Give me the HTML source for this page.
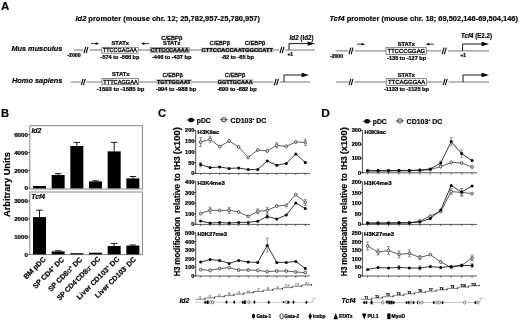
<!DOCTYPE html>
<html lang="en">
<head>
<meta charset="utf-8">
<title>Id2 and Tcf4 promoter analysis</title>
<style>
html,body{margin:0;padding:0;background:#fff;}
body{width:520px;height:321px;overflow:hidden;}
svg{display:block;font-family:"Liberation Sans", Arial, sans-serif;}
text{font-family:"Liberation Sans", Arial, sans-serif;stroke:#000;stroke-width:0.17px;paint-order:stroke;}
</style>
</head>
<body>
<svg width="520" height="321" viewBox="0 0 520 321">
<rect x="0" y="0" width="520" height="321" fill="#fff"/>
<text x="1.00" y="9.87" style="font-size:10.8px;font-weight:bold;" textLength="8.30" lengthAdjust="spacingAndGlyphs">A</text>
<text x="75.50" y="20.81" style="font-size:7.3px;font-weight:bold;" textLength="184.50" lengthAdjust="spacingAndGlyphs"><tspan style="font-style:italic">Id2</tspan> promoter (mouse chr. 12; 25,782,957-25,780,957)</text>
<text x="329.50" y="20.81" style="font-size:7.3px;font-weight:bold;" textLength="188.50" lengthAdjust="spacingAndGlyphs"><tspan style="font-style:italic">Tcf4</tspan> promoter (mouse chr. 18; 69,502,146-69,504,146)</text>
<text x="11.40" y="51.05" style="font-size:7.4px;font-weight:bold;font-style:italic;" textLength="51.00" lengthAdjust="spacingAndGlyphs">Mus musculus</text>
<text x="12.00" y="83.05" style="font-size:7.4px;font-weight:bold;font-style:italic;" textLength="50.40" lengthAdjust="spacingAndGlyphs">Homo sapiens</text>
<line x1="74.00" y1="50.00" x2="83.40" y2="50.00" stroke="#686868" stroke-width="0.9"/>
<line x1="84.00" y1="53.20" x2="85.80" y2="46.80" stroke="#000" stroke-width="1.1"/>
<line x1="86.20" y1="53.20" x2="88.00" y2="46.80" stroke="#000" stroke-width="1.1"/>
<line x1="89.40" y1="50.00" x2="279.00" y2="50.00" stroke="#686868" stroke-width="0.9"/>
<line x1="280.00" y1="53.20" x2="281.80" y2="46.80" stroke="#000" stroke-width="1.1"/>
<line x1="282.20" y1="53.20" x2="284.00" y2="46.80" stroke="#000" stroke-width="1.1"/>
<line x1="285.40" y1="50.00" x2="315.00" y2="50.00" stroke="#686868" stroke-width="0.9"/>
<text x="67.40" y="57.15" style="font-size:4.9px;font-weight:bold;stroke-width:0.24px;" textLength="13.20" lengthAdjust="spacingAndGlyphs">-2000</text>
<line x1="91.00" y1="43.60" x2="97.00" y2="43.60" stroke="#000" stroke-width="0.8"/>
<path d="M99.00 43.60 L95.70 42.20 L95.70 45.00 Z" fill="#000"/>
<line x1="143.00" y1="43.60" x2="149.00" y2="43.60" stroke="#000" stroke-width="0.8"/>
<path d="M141.00 43.60 L144.30 42.20 L144.30 45.00 Z" fill="#000"/>
<text x="111.40" y="45.30" style="font-size:5.6px;font-weight:bold;stroke-width:0.24px;" textLength="17.70" lengthAdjust="spacingAndGlyphs">STATx</text>
<rect x="101.90" y="47.20" width="36.20" height="6.00" fill="#fff" stroke="#444" stroke-width="0.6"/>
<text x="102.90" y="52.17" style="font-size:5.5px;stroke-width:0.3px;" textLength="34.10" lengthAdjust="spacingAndGlyphs">TTCCGAGAA</text>
<text x="100.60" y="59.20" style="font-size:5.6px;font-weight:bold;stroke-width:0.24px;" textLength="38.80" lengthAdjust="spacingAndGlyphs">-574 to -566 bp</text>
<text x="161.20" y="39.55" style="font-size:6px;stroke-width:0.3px;" textLength="21.10" lengthAdjust="spacingAndGlyphs">C/EBPβ</text>
<text x="163.10" y="45.10" style="font-size:5.6px;font-weight:bold;stroke-width:0.24px;" textLength="17.30" lengthAdjust="spacingAndGlyphs">STATx</text>
<rect x="150.10" y="47.30" width="39.20" height="5.40" fill="#c4c4c4" stroke="#666" stroke-width="0.5"/>
<text x="150.70" y="52.07" style="font-size:5.5px;font-weight:bold;stroke-width:0.24px;" textLength="38.00" lengthAdjust="spacingAndGlyphs">CTTCCCAAAA</text>
<text x="152.00" y="59.30" style="font-size:5.6px;font-weight:bold;stroke-width:0.24px;" textLength="39.40" lengthAdjust="spacingAndGlyphs">-446 to -437 bp</text>
<text x="209.50" y="45.15" style="font-size:6px;stroke-width:0.3px;" textLength="20.50" lengthAdjust="spacingAndGlyphs">C/EBPβ</text>
<text x="244.70" y="44.95" style="font-size:6px;stroke-width:0.3px;" textLength="20.60" lengthAdjust="spacingAndGlyphs">C/EBPβ</text>
<rect x="201.00" y="47.50" width="72.20" height="4.90" fill="#c4c4c4" stroke="none" stroke-width="1"/>
<text x="201.60" y="52.07" style="font-size:5.5px;font-weight:bold;stroke-width:0.24px;" textLength="71.40" lengthAdjust="spacingAndGlyphs">CTTCCACCAATGGCCATT</text>
<text x="221.20" y="58.70" style="font-size:5.6px;font-weight:bold;stroke-width:0.24px;" textLength="32.60" lengthAdjust="spacingAndGlyphs">-82 to -65 bp</text>
<path d="M289.00 50.00 V43.60 H310.00" fill="none" stroke="#000" stroke-width="0.9"/>
<path d="M315.00 43.60 L307.60 41.40 L307.60 45.80 Z" fill="#000"/>
<text x="289.60" y="39.76" style="font-size:6.6px;font-weight:bold;" textLength="23.90" lengthAdjust="spacingAndGlyphs"><tspan style="font-style:italic">Id2</tspan> (Id2)</text>
<text x="287.40" y="56.19" style="font-size:5px;font-weight:bold;stroke-width:0.24px;" textLength="5.60" lengthAdjust="spacingAndGlyphs">+1</text>
<line x1="70.80" y1="82.00" x2="80.60" y2="82.00" stroke="#686868" stroke-width="0.9"/>
<line x1="81.20" y1="85.20" x2="83.00" y2="78.80" stroke="#000" stroke-width="1.1"/>
<line x1="83.40" y1="85.20" x2="85.20" y2="78.80" stroke="#000" stroke-width="1.1"/>
<line x1="86.40" y1="82.00" x2="273.40" y2="82.00" stroke="#686868" stroke-width="0.9"/>
<line x1="274.40" y1="85.20" x2="276.20" y2="78.80" stroke="#000" stroke-width="1.1"/>
<line x1="276.60" y1="85.20" x2="278.40" y2="78.80" stroke="#000" stroke-width="1.1"/>
<line x1="279.80" y1="82.00" x2="310.00" y2="82.00" stroke="#686868" stroke-width="0.9"/>
<text x="111.90" y="76.40" style="font-size:5.6px;font-weight:bold;stroke-width:0.24px;" textLength="17.60" lengthAdjust="spacingAndGlyphs">STATx</text>
<rect x="102.00" y="78.50" width="36.40" height="6.30" fill="#fff" stroke="#444" stroke-width="0.6"/>
<text x="103.30" y="83.77" style="font-size:5.5px;stroke-width:0.3px;" textLength="34.40" lengthAdjust="spacingAndGlyphs">TTTCAGGAA</text>
<text x="96.80" y="91.20" style="font-size:5.6px;font-weight:bold;stroke-width:0.24px;" textLength="47.60" lengthAdjust="spacingAndGlyphs">-1593 to -1585 bp</text>
<text x="162.50" y="76.75" style="font-size:6px;stroke-width:0.3px;" textLength="20.20" lengthAdjust="spacingAndGlyphs">C/EBPβ</text>
<rect x="156.20" y="79.10" width="35.60" height="5.50" fill="#c4c4c4" stroke="none" stroke-width="1"/>
<text x="157.00" y="83.87" style="font-size:5.5px;font-weight:bold;stroke-width:0.24px;" textLength="33.70" lengthAdjust="spacingAndGlyphs">TGTTGGAAT</text>
<text x="156.00" y="91.10" style="font-size:5.6px;font-weight:bold;stroke-width:0.24px;" textLength="40.20" lengthAdjust="spacingAndGlyphs">-994 to -988 bp</text>
<text x="224.80" y="76.75" style="font-size:6px;stroke-width:0.3px;" textLength="20.40" lengthAdjust="spacingAndGlyphs">C/EBPβ</text>
<rect x="217.30" y="79.10" width="36.10" height="5.50" fill="#c4c4c4" stroke="none" stroke-width="1"/>
<text x="217.80" y="83.87" style="font-size:5.5px;font-weight:bold;stroke-width:0.24px;" textLength="34.90" lengthAdjust="spacingAndGlyphs">GGTTGCAAA</text>
<text x="216.90" y="90.90" style="font-size:5.6px;font-weight:bold;stroke-width:0.24px;" textLength="39.90" lengthAdjust="spacingAndGlyphs">-690 to -682 bp</text>
<path d="M284.00 82.00 V75.00 H304.00" fill="none" stroke="#000" stroke-width="0.9"/>
<path d="M309.00 75.00 L301.60 72.80 L301.60 77.20 Z" fill="#000"/>
<line x1="335.60" y1="50.90" x2="348.60" y2="50.90" stroke="#686868" stroke-width="0.9"/>
<line x1="349.00" y1="54.10" x2="350.80" y2="47.70" stroke="#000" stroke-width="1.1"/>
<line x1="351.20" y1="54.10" x2="353.00" y2="47.70" stroke="#000" stroke-width="1.1"/>
<line x1="354.40" y1="50.90" x2="441.40" y2="50.90" stroke="#686868" stroke-width="0.9"/>
<line x1="442.20" y1="54.10" x2="444.00" y2="47.70" stroke="#000" stroke-width="1.1"/>
<line x1="444.40" y1="54.10" x2="446.20" y2="47.70" stroke="#000" stroke-width="1.1"/>
<line x1="447.80" y1="50.90" x2="489.00" y2="50.90" stroke="#686868" stroke-width="0.9"/>
<text x="330.00" y="57.75" style="font-size:4.9px;font-weight:bold;stroke-width:0.24px;" textLength="13.00" lengthAdjust="spacingAndGlyphs">-2000</text>
<line x1="357.00" y1="44.20" x2="363.00" y2="44.20" stroke="#000" stroke-width="0.8"/>
<path d="M365.00 44.20 L361.70 42.80 L361.70 45.60 Z" fill="#000"/>
<line x1="427.80" y1="44.20" x2="433.80" y2="44.20" stroke="#000" stroke-width="0.8"/>
<path d="M425.80 44.20 L429.10 42.80 L429.10 45.60 Z" fill="#000"/>
<text x="397.70" y="46.00" style="font-size:5.6px;font-weight:bold;stroke-width:0.24px;" textLength="17.30" lengthAdjust="spacingAndGlyphs">STATx</text>
<rect x="386.00" y="47.50" width="40.20" height="6.80" fill="#fff" stroke="#444" stroke-width="0.6"/>
<text x="387.60" y="53.08" style="font-size:5.8px;stroke-width:0.3px;" textLength="37.60" lengthAdjust="spacingAndGlyphs">TTCCCGGAG</text>
<text x="387.10" y="60.40" style="font-size:5.6px;font-weight:bold;stroke-width:0.24px;" textLength="39.10" lengthAdjust="spacingAndGlyphs">-135 to -127 bp</text>
<path d="M462.60 50.90 V44.00 H484.00" fill="none" stroke="#000" stroke-width="0.9"/>
<path d="M489.00 44.00 L481.60 41.80 L481.60 46.20 Z" fill="#000"/>
<text x="461.00" y="37.96" style="font-size:6.6px;font-weight:bold;" textLength="31.00" lengthAdjust="spacingAndGlyphs"><tspan style="font-style:italic">Tcf4</tspan> (E2.2)</text>
<text x="460.40" y="57.39" style="font-size:5px;font-weight:bold;stroke-width:0.24px;" textLength="5.60" lengthAdjust="spacingAndGlyphs">+1</text>
<line x1="336.00" y1="82.00" x2="348.60" y2="82.00" stroke="#686868" stroke-width="0.9"/>
<line x1="349.00" y1="85.20" x2="350.80" y2="78.80" stroke="#000" stroke-width="1.1"/>
<line x1="351.20" y1="85.20" x2="353.00" y2="78.80" stroke="#000" stroke-width="1.1"/>
<line x1="354.40" y1="82.00" x2="442.40" y2="82.00" stroke="#686868" stroke-width="0.9"/>
<line x1="443.20" y1="85.20" x2="445.00" y2="78.80" stroke="#000" stroke-width="1.1"/>
<line x1="445.40" y1="85.20" x2="447.20" y2="78.80" stroke="#000" stroke-width="1.1"/>
<line x1="448.80" y1="82.00" x2="489.00" y2="82.00" stroke="#686868" stroke-width="0.9"/>
<text x="397.70" y="76.50" style="font-size:5.6px;font-weight:bold;stroke-width:0.24px;" textLength="17.30" lengthAdjust="spacingAndGlyphs">STATx</text>
<rect x="386.20" y="78.60" width="40.20" height="6.80" fill="#fff" stroke="#444" stroke-width="0.6"/>
<text x="388.00" y="84.28" style="font-size:5.8px;stroke-width:0.3px;" textLength="37.20" lengthAdjust="spacingAndGlyphs">TTCAGGGAA</text>
<text x="384.00" y="91.00" style="font-size:5.6px;font-weight:bold;stroke-width:0.24px;" textLength="45.00" lengthAdjust="spacingAndGlyphs">-1133 to -1125 bp</text>
<path d="M463.00 82.00 V75.00 H484.00" fill="none" stroke="#000" stroke-width="0.9"/>
<path d="M489.00 75.00 L481.60 72.80 L481.60 77.20 Z" fill="#000"/>
<text x="0.90" y="117.17" style="font-size:10.8px;font-weight:bold;" textLength="8.10" lengthAdjust="spacingAndGlyphs">B</text>
<rect x="29.80" y="125.70" width="112.60" height="63.30" fill="none" stroke="#858585" stroke-width="1"/>
<rect x="29.80" y="192.00" width="112.60" height="62.60" fill="none" stroke="#858585" stroke-width="1"/>
<text x="31.40" y="132.80" style="font-size:6.7px;font-weight:bold;font-style:italic;" textLength="10.00" lengthAdjust="spacingAndGlyphs">Id2</text>
<text x="31.20" y="198.83" style="font-size:6.8px;font-weight:bold;font-style:italic;" textLength="14.00" lengthAdjust="spacingAndGlyphs">Tcf4</text>
<text x="27.90" y="136.82" style="font-size:6.2px;font-weight:bold;stroke-width:0.24px;" text-anchor="end">6000</text>
<line x1="28.30" y1="134.60" x2="29.60" y2="134.60" stroke="#000" stroke-width="0.8"/>
<text x="27.90" y="154.72" style="font-size:6.2px;font-weight:bold;stroke-width:0.24px;" text-anchor="end">4000</text>
<line x1="28.30" y1="152.50" x2="29.60" y2="152.50" stroke="#000" stroke-width="0.8"/>
<text x="27.90" y="172.62" style="font-size:6.2px;font-weight:bold;stroke-width:0.24px;" text-anchor="end">2000</text>
<line x1="28.30" y1="170.40" x2="29.60" y2="170.40" stroke="#000" stroke-width="0.8"/>
<text x="27.90" y="190.22" style="font-size:6.2px;font-weight:bold;stroke-width:0.24px;" text-anchor="end">0</text>
<line x1="28.30" y1="188.00" x2="29.60" y2="188.00" stroke="#000" stroke-width="0.8"/>
<text x="27.90" y="203.22" style="font-size:6.2px;font-weight:bold;stroke-width:0.24px;" text-anchor="end">3000</text>
<line x1="28.30" y1="201.00" x2="29.60" y2="201.00" stroke="#000" stroke-width="0.8"/>
<text x="27.90" y="221.22" style="font-size:6.2px;font-weight:bold;stroke-width:0.24px;" text-anchor="end">2000</text>
<line x1="28.30" y1="219.00" x2="29.60" y2="219.00" stroke="#000" stroke-width="0.8"/>
<text x="27.90" y="239.22" style="font-size:6.2px;font-weight:bold;stroke-width:0.24px;" text-anchor="end">1000</text>
<line x1="28.30" y1="237.00" x2="29.60" y2="237.00" stroke="#000" stroke-width="0.8"/>
<text x="27.90" y="256.62" style="font-size:6.2px;font-weight:bold;stroke-width:0.24px;" text-anchor="end">0</text>
<line x1="28.30" y1="254.40" x2="29.60" y2="254.40" stroke="#000" stroke-width="0.8"/>
<text transform="translate(10.2 217) rotate(-90)" style="font-size:9.2px;font-weight:bold" textLength="64.8" lengthAdjust="spacingAndGlyphs">Arbitrary Units</text>
<rect x="33.00" y="186.00" width="13.00" height="2.40" fill="#000" stroke="none" stroke-width="1"/>
<rect x="51.67" y="175.00" width="13.00" height="13.40" fill="#000" stroke="none" stroke-width="1"/>
<line x1="58.17" y1="175.00" x2="58.17" y2="173.60" stroke="#000" stroke-width="0.9"/>
<line x1="54.97" y1="173.60" x2="61.37" y2="173.60" stroke="#000" stroke-width="0.9"/>
<rect x="70.34" y="146.00" width="13.00" height="42.40" fill="#000" stroke="none" stroke-width="1"/>
<line x1="76.84" y1="146.00" x2="76.84" y2="142.40" stroke="#000" stroke-width="0.9"/>
<line x1="73.64" y1="142.40" x2="80.04" y2="142.40" stroke="#000" stroke-width="0.9"/>
<rect x="89.01" y="181.40" width="13.00" height="7.00" fill="#000" stroke="none" stroke-width="1"/>
<line x1="95.51" y1="181.40" x2="95.51" y2="180.80" stroke="#000" stroke-width="0.9"/>
<line x1="92.31" y1="180.80" x2="98.71" y2="180.80" stroke="#000" stroke-width="0.9"/>
<rect x="107.68" y="151.40" width="13.00" height="37.00" fill="#000" stroke="none" stroke-width="1"/>
<line x1="114.18" y1="151.40" x2="114.18" y2="142.40" stroke="#000" stroke-width="0.9"/>
<line x1="110.98" y1="142.40" x2="117.38" y2="142.40" stroke="#000" stroke-width="0.9"/>
<rect x="126.35" y="178.40" width="13.00" height="10.00" fill="#000" stroke="none" stroke-width="1"/>
<line x1="132.85" y1="178.40" x2="132.85" y2="176.50" stroke="#000" stroke-width="0.9"/>
<line x1="129.65" y1="176.50" x2="136.05" y2="176.50" stroke="#000" stroke-width="0.9"/>
<rect x="33.00" y="217.10" width="13.00" height="37.30" fill="#000" stroke="none" stroke-width="1"/>
<line x1="39.50" y1="217.10" x2="39.50" y2="210.20" stroke="#000" stroke-width="0.9"/>
<line x1="36.30" y1="210.20" x2="42.70" y2="210.20" stroke="#000" stroke-width="0.9"/>
<rect x="51.67" y="251.40" width="13.00" height="3.00" fill="#000" stroke="none" stroke-width="1"/>
<line x1="58.17" y1="251.40" x2="58.17" y2="250.80" stroke="#000" stroke-width="0.9"/>
<line x1="54.97" y1="250.80" x2="61.37" y2="250.80" stroke="#000" stroke-width="0.9"/>
<rect x="70.34" y="253.20" width="13.00" height="1.20" fill="#000" stroke="none" stroke-width="1"/>
<rect x="89.01" y="252.70" width="13.00" height="1.70" fill="#000" stroke="none" stroke-width="1"/>
<rect x="107.68" y="246.00" width="13.00" height="8.40" fill="#000" stroke="none" stroke-width="1"/>
<line x1="114.18" y1="246.00" x2="114.18" y2="243.40" stroke="#000" stroke-width="0.9"/>
<line x1="110.98" y1="243.40" x2="117.38" y2="243.40" stroke="#000" stroke-width="0.9"/>
<rect x="126.35" y="245.60" width="13.00" height="8.80" fill="#000" stroke="none" stroke-width="1"/>
<line x1="132.85" y1="245.60" x2="132.85" y2="245.00" stroke="#000" stroke-width="0.9"/>
<line x1="129.65" y1="245.00" x2="136.05" y2="245.00" stroke="#000" stroke-width="0.9"/>
<text transform="translate(46.20 259.85) rotate(-45) scale(1 1)" text-anchor="end" style="font-size:7.2px;font-weight:bold">BM pDC</text>
<text transform="translate(64.62 260.00) rotate(-45) scale(1 1)" text-anchor="end" style="font-size:7.2px;font-weight:bold">SP CD4<tspan dy="-2.4" style="font-size:4.6px">+</tspan><tspan dy="2.4">​</tspan> DC</text>
<text transform="translate(82.79 260.00) rotate(-45) scale(1 1)" text-anchor="end" style="font-size:7.2px;font-weight:bold">SP CD8<tspan style="font-weight:normal">α</tspan><tspan dy="-2.4" style="font-size:4.6px">+</tspan><tspan dy="2.4">​</tspan> DC</text>
<text transform="translate(100.96 259.50) rotate(-45) scale(0.975 1)" text-anchor="end" style="font-size:7.2px;font-weight:bold">SP CD4<tspan dy="-2.4" style="font-size:4.6px">-</tspan><tspan dy="2.4">​</tspan>CD8<tspan style="font-weight:normal">α</tspan><tspan dy="-2.4" style="font-size:4.6px">-</tspan><tspan dy="2.4">​</tspan> DC</text>
<text transform="translate(119.88 259.60) rotate(-45) scale(1.01 1)" text-anchor="end" style="font-size:7.2px;font-weight:bold">Liver CD103<tspan dy="-2.4" style="font-size:4.6px">+</tspan><tspan dy="2.4">​</tspan> DC</text>
<text transform="translate(136.45 260.00) rotate(-45) scale(0.985 1)" text-anchor="end" style="font-size:7.2px;font-weight:bold">Liver CD103<tspan dy="-2.4" style="font-size:4.6px">-</tspan><tspan dy="2.4">​</tspan> DC</text>
<text x="158.00" y="117.07" style="font-size:10.8px;font-weight:bold;" textLength="8.10" lengthAdjust="spacingAndGlyphs">C</text>
<line x1="186.80" y1="120.00" x2="195.20" y2="120.00" stroke="#000" stroke-width="0.8"/>
<ellipse cx="191.10" cy="120.00" rx="2.7" ry="2.3" fill="#000"/>
<text x="196.80" y="122.51" style="font-size:7px;font-weight:bold;" textLength="14.00" lengthAdjust="spacingAndGlyphs">pDC</text>
<ellipse cx="223.90" cy="119.70" rx="2.5" ry="2.2" fill="#f4f4f4" stroke="#222" stroke-width="0.85"/>
<line x1="219.90" y1="119.70" x2="227.90" y2="119.70" stroke="#222" stroke-width="0.7"/>
<text x="230.60" y="122.51" style="font-size:7px;font-weight:bold;" textLength="35.80" lengthAdjust="spacingAndGlyphs">CD103<tspan dy="-2.6" style="font-size:3.6px">+</tspan><tspan dy="2.6"> DC</tspan></text>
<text transform="translate(179.50 276.25) rotate(-90)" style="font-size:8.3px;font-weight:bold" textLength="9.80" lengthAdjust="spacingAndGlyphs">H3</text>
<text transform="translate(179.50 264.65) rotate(-90)" style="font-size:8.3px;font-weight:bold" textLength="47.60" lengthAdjust="spacingAndGlyphs">modification</text>
<text transform="translate(179.50 212.95) rotate(-90)" style="font-size:8.3px;font-weight:bold" textLength="29.20" lengthAdjust="spacingAndGlyphs">relative</text>
<text transform="translate(179.50 180.95) rotate(-90)" style="font-size:8.3px;font-weight:bold" textLength="7.90" lengthAdjust="spacingAndGlyphs">to</text>
<text transform="translate(179.50 169.95) rotate(-90)" style="font-size:8.3px;font-weight:bold" textLength="13.70" lengthAdjust="spacingAndGlyphs">tH3</text>
<text transform="translate(179.50 154.35) rotate(-90)" style="font-size:8.3px;font-weight:bold" textLength="27.30" lengthAdjust="spacingAndGlyphs">(x100)</text>
<line x1="195.70" y1="129.90" x2="195.70" y2="173.80" stroke="#111" stroke-width="0.75"/>
<line x1="195.30" y1="173.40" x2="310.00" y2="173.40" stroke="#222" stroke-width="0.75"/>
<text x="194.40" y="132.40" style="font-size:5.6px;font-weight:bold;stroke-width:0.24px;" text-anchor="end">200</text>
<line x1="194.20" y1="130.40" x2="195.70" y2="130.40" stroke="#000" stroke-width="0.7"/>
<text x="194.40" y="143.10" style="font-size:5.6px;font-weight:bold;stroke-width:0.24px;" text-anchor="end">150</text>
<line x1="194.20" y1="141.10" x2="195.70" y2="141.10" stroke="#000" stroke-width="0.7"/>
<text x="194.40" y="153.90" style="font-size:5.6px;font-weight:bold;stroke-width:0.24px;" text-anchor="end">100</text>
<line x1="194.20" y1="151.90" x2="195.70" y2="151.90" stroke="#000" stroke-width="0.7"/>
<text x="194.40" y="164.60" style="font-size:5.6px;font-weight:bold;stroke-width:0.24px;" text-anchor="end">50</text>
<line x1="194.20" y1="162.60" x2="195.70" y2="162.60" stroke="#000" stroke-width="0.7"/>
<text x="194.40" y="175.20" style="font-size:5.6px;font-weight:bold;stroke-width:0.24px;" text-anchor="end">0</text>
<line x1="194.20" y1="173.20" x2="195.70" y2="173.20" stroke="#000" stroke-width="0.7"/>
<line x1="200.60" y1="173.40" x2="200.60" y2="175.00" stroke="#000" stroke-width="0.6"/>
<line x1="210.12" y1="173.40" x2="210.12" y2="175.00" stroke="#000" stroke-width="0.6"/>
<line x1="219.64" y1="173.40" x2="219.64" y2="175.00" stroke="#000" stroke-width="0.6"/>
<line x1="229.16" y1="173.40" x2="229.16" y2="175.00" stroke="#000" stroke-width="0.6"/>
<line x1="238.68" y1="173.40" x2="238.68" y2="175.00" stroke="#000" stroke-width="0.6"/>
<line x1="248.20" y1="173.40" x2="248.20" y2="175.00" stroke="#000" stroke-width="0.6"/>
<line x1="257.72" y1="173.40" x2="257.72" y2="175.00" stroke="#000" stroke-width="0.6"/>
<line x1="267.24" y1="173.40" x2="267.24" y2="175.00" stroke="#000" stroke-width="0.6"/>
<line x1="276.76" y1="173.40" x2="276.76" y2="175.00" stroke="#000" stroke-width="0.6"/>
<line x1="286.28" y1="173.40" x2="286.28" y2="175.00" stroke="#000" stroke-width="0.6"/>
<line x1="295.80" y1="173.40" x2="295.80" y2="175.00" stroke="#000" stroke-width="0.6"/>
<line x1="305.32" y1="173.40" x2="305.32" y2="175.00" stroke="#000" stroke-width="0.6"/>
<text x="197.60" y="133.75" style="font-size:6px;font-weight:bold;stroke-width:0.24px;" textLength="21.80" lengthAdjust="spacingAndGlyphs">H3K9ac</text>
<polyline points="200.60,164.60 210.12,167.60 219.64,167.00 229.16,168.40 238.68,168.00 248.20,169.50 257.72,169.40 267.24,161.00 276.76,165.20 286.28,163.40 295.80,154.00 305.32,162.40" fill="none" stroke="#000" stroke-width="0.8"/>
<line x1="200.60" y1="162.40" x2="200.60" y2="166.80" stroke="#808080" stroke-width="0.9"/>
<line x1="199.10" y1="162.40" x2="202.10" y2="162.40" stroke="#808080" stroke-width="0.8"/>
<line x1="199.10" y1="166.80" x2="202.10" y2="166.80" stroke="#808080" stroke-width="0.8"/>
<circle cx="200.60" cy="164.60" r="1.5" fill="#000"/>
<circle cx="210.12" cy="167.60" r="1.5" fill="#000"/>
<circle cx="219.64" cy="167.00" r="1.5" fill="#000"/>
<circle cx="229.16" cy="168.40" r="1.5" fill="#000"/>
<circle cx="238.68" cy="168.00" r="1.5" fill="#000"/>
<circle cx="248.20" cy="169.50" r="1.5" fill="#000"/>
<circle cx="257.72" cy="169.40" r="1.5" fill="#000"/>
<circle cx="267.24" cy="161.00" r="1.5" fill="#000"/>
<circle cx="276.76" cy="165.20" r="1.5" fill="#000"/>
<circle cx="286.28" cy="163.40" r="1.5" fill="#000"/>
<circle cx="295.80" cy="154.00" r="1.5" fill="#000"/>
<circle cx="305.32" cy="162.40" r="1.5" fill="#000"/>
<polyline points="200.60,142.00 210.12,139.40 219.64,146.60 229.16,141.00 238.68,147.00 248.20,157.40 257.72,150.00 267.24,151.00 276.76,145.40 286.28,146.40 295.80,142.00 305.32,142.40" fill="none" stroke="#333" stroke-width="0.8"/>
<line x1="200.60" y1="137.50" x2="200.60" y2="146.50" stroke="#808080" stroke-width="0.9"/>
<line x1="199.10" y1="137.50" x2="202.10" y2="137.50" stroke="#808080" stroke-width="0.8"/>
<line x1="199.10" y1="146.50" x2="202.10" y2="146.50" stroke="#808080" stroke-width="0.8"/>
<line x1="210.12" y1="136.20" x2="210.12" y2="142.60" stroke="#808080" stroke-width="0.9"/>
<line x1="208.62" y1="136.20" x2="211.62" y2="136.20" stroke="#808080" stroke-width="0.8"/>
<line x1="208.62" y1="142.60" x2="211.62" y2="142.60" stroke="#808080" stroke-width="0.8"/>
<line x1="276.76" y1="142.80" x2="276.76" y2="148.00" stroke="#808080" stroke-width="0.9"/>
<line x1="275.26" y1="142.80" x2="278.26" y2="142.80" stroke="#808080" stroke-width="0.8"/>
<line x1="275.26" y1="148.00" x2="278.26" y2="148.00" stroke="#808080" stroke-width="0.8"/>
<line x1="305.32" y1="139.20" x2="305.32" y2="145.60" stroke="#808080" stroke-width="0.9"/>
<line x1="303.82" y1="139.20" x2="306.82" y2="139.20" stroke="#808080" stroke-width="0.8"/>
<line x1="303.82" y1="145.60" x2="306.82" y2="145.60" stroke="#808080" stroke-width="0.8"/>
<ellipse cx="200.60" cy="142.00" rx="1.3" ry="1.5" fill="#e4e4e4" stroke="#2a2a2a" stroke-width="0.75"/>
<ellipse cx="210.12" cy="139.40" rx="1.3" ry="1.5" fill="#e4e4e4" stroke="#2a2a2a" stroke-width="0.75"/>
<ellipse cx="219.64" cy="146.60" rx="1.3" ry="1.5" fill="#e4e4e4" stroke="#2a2a2a" stroke-width="0.75"/>
<ellipse cx="229.16" cy="141.00" rx="1.3" ry="1.5" fill="#e4e4e4" stroke="#2a2a2a" stroke-width="0.75"/>
<ellipse cx="238.68" cy="147.00" rx="1.3" ry="1.5" fill="#e4e4e4" stroke="#2a2a2a" stroke-width="0.75"/>
<ellipse cx="248.20" cy="157.40" rx="1.3" ry="1.5" fill="#e4e4e4" stroke="#2a2a2a" stroke-width="0.75"/>
<ellipse cx="257.72" cy="150.00" rx="1.3" ry="1.5" fill="#e4e4e4" stroke="#2a2a2a" stroke-width="0.75"/>
<ellipse cx="267.24" cy="151.00" rx="1.3" ry="1.5" fill="#e4e4e4" stroke="#2a2a2a" stroke-width="0.75"/>
<ellipse cx="276.76" cy="145.40" rx="1.3" ry="1.5" fill="#e4e4e4" stroke="#2a2a2a" stroke-width="0.75"/>
<ellipse cx="286.28" cy="146.40" rx="1.3" ry="1.5" fill="#e4e4e4" stroke="#2a2a2a" stroke-width="0.75"/>
<ellipse cx="295.80" cy="142.00" rx="1.3" ry="1.5" fill="#e4e4e4" stroke="#2a2a2a" stroke-width="0.75"/>
<ellipse cx="305.32" cy="142.40" rx="1.3" ry="1.5" fill="#e4e4e4" stroke="#2a2a2a" stroke-width="0.75"/>
<line x1="195.70" y1="181.30" x2="195.70" y2="224.80" stroke="#111" stroke-width="0.75"/>
<line x1="195.30" y1="224.40" x2="310.00" y2="224.40" stroke="#222" stroke-width="0.75"/>
<text x="194.40" y="184.00" style="font-size:5.6px;font-weight:bold;stroke-width:0.24px;" text-anchor="end">400</text>
<line x1="194.20" y1="182.00" x2="195.70" y2="182.00" stroke="#000" stroke-width="0.7"/>
<text x="194.40" y="194.50" style="font-size:5.6px;font-weight:bold;stroke-width:0.24px;" text-anchor="end">300</text>
<line x1="194.20" y1="192.50" x2="195.70" y2="192.50" stroke="#000" stroke-width="0.7"/>
<text x="194.40" y="205.10" style="font-size:5.6px;font-weight:bold;stroke-width:0.24px;" text-anchor="end">200</text>
<line x1="194.20" y1="203.10" x2="195.70" y2="203.10" stroke="#000" stroke-width="0.7"/>
<text x="194.40" y="215.70" style="font-size:5.6px;font-weight:bold;stroke-width:0.24px;" text-anchor="end">100</text>
<line x1="194.20" y1="213.70" x2="195.70" y2="213.70" stroke="#000" stroke-width="0.7"/>
<text x="194.40" y="226.20" style="font-size:5.6px;font-weight:bold;stroke-width:0.24px;" text-anchor="end">0</text>
<line x1="194.20" y1="224.20" x2="195.70" y2="224.20" stroke="#000" stroke-width="0.7"/>
<line x1="200.60" y1="224.40" x2="200.60" y2="226.00" stroke="#000" stroke-width="0.6"/>
<line x1="210.12" y1="224.40" x2="210.12" y2="226.00" stroke="#000" stroke-width="0.6"/>
<line x1="219.64" y1="224.40" x2="219.64" y2="226.00" stroke="#000" stroke-width="0.6"/>
<line x1="229.16" y1="224.40" x2="229.16" y2="226.00" stroke="#000" stroke-width="0.6"/>
<line x1="238.68" y1="224.40" x2="238.68" y2="226.00" stroke="#000" stroke-width="0.6"/>
<line x1="248.20" y1="224.40" x2="248.20" y2="226.00" stroke="#000" stroke-width="0.6"/>
<line x1="257.72" y1="224.40" x2="257.72" y2="226.00" stroke="#000" stroke-width="0.6"/>
<line x1="267.24" y1="224.40" x2="267.24" y2="226.00" stroke="#000" stroke-width="0.6"/>
<line x1="276.76" y1="224.40" x2="276.76" y2="226.00" stroke="#000" stroke-width="0.6"/>
<line x1="286.28" y1="224.40" x2="286.28" y2="226.00" stroke="#000" stroke-width="0.6"/>
<line x1="295.80" y1="224.40" x2="295.80" y2="226.00" stroke="#000" stroke-width="0.6"/>
<line x1="305.32" y1="224.40" x2="305.32" y2="226.00" stroke="#000" stroke-width="0.6"/>
<text x="197.40" y="185.15" style="font-size:6px;font-weight:bold;stroke-width:0.24px;" textLength="27.60" lengthAdjust="spacingAndGlyphs">H3K4me3</text>
<polyline points="200.60,221.00 210.12,223.00 219.64,222.40 229.16,223.00 238.68,222.40 248.20,222.40 257.72,221.20 267.24,216.40 276.76,219.00 286.28,215.00 295.80,203.00 305.32,208.40" fill="none" stroke="#000" stroke-width="0.8"/>
<line x1="267.24" y1="214.40" x2="267.24" y2="218.40" stroke="#808080" stroke-width="0.9"/>
<line x1="265.74" y1="214.40" x2="268.74" y2="214.40" stroke="#808080" stroke-width="0.8"/>
<line x1="265.74" y1="218.40" x2="268.74" y2="218.40" stroke="#808080" stroke-width="0.8"/>
<circle cx="200.60" cy="221.00" r="1.5" fill="#000"/>
<circle cx="210.12" cy="223.00" r="1.5" fill="#000"/>
<circle cx="219.64" cy="222.40" r="1.5" fill="#000"/>
<circle cx="229.16" cy="223.00" r="1.5" fill="#000"/>
<circle cx="238.68" cy="222.40" r="1.5" fill="#000"/>
<circle cx="248.20" cy="222.40" r="1.5" fill="#000"/>
<circle cx="257.72" cy="221.20" r="1.5" fill="#000"/>
<circle cx="267.24" cy="216.40" r="1.5" fill="#000"/>
<circle cx="276.76" cy="219.00" r="1.5" fill="#000"/>
<circle cx="286.28" cy="215.00" r="1.5" fill="#000"/>
<circle cx="295.80" cy="203.00" r="1.5" fill="#000"/>
<circle cx="305.32" cy="208.40" r="1.5" fill="#000"/>
<polyline points="200.60,213.50 210.12,210.20 219.64,210.50 229.16,210.30 238.68,212.00 248.20,216.40 257.72,211.40 267.24,210.40 276.76,206.00 286.28,205.40 295.80,194.60 305.32,202.50" fill="none" stroke="#333" stroke-width="0.8"/>
<line x1="210.12" y1="207.20" x2="210.12" y2="213.20" stroke="#808080" stroke-width="0.9"/>
<line x1="208.62" y1="207.20" x2="211.62" y2="207.20" stroke="#808080" stroke-width="0.8"/>
<line x1="208.62" y1="213.20" x2="211.62" y2="213.20" stroke="#808080" stroke-width="0.8"/>
<line x1="229.16" y1="207.30" x2="229.16" y2="213.30" stroke="#808080" stroke-width="0.9"/>
<line x1="227.66" y1="207.30" x2="230.66" y2="207.30" stroke="#808080" stroke-width="0.8"/>
<line x1="227.66" y1="213.30" x2="230.66" y2="213.30" stroke="#808080" stroke-width="0.8"/>
<line x1="257.72" y1="208.90" x2="257.72" y2="213.90" stroke="#808080" stroke-width="0.9"/>
<line x1="256.22" y1="208.90" x2="259.22" y2="208.90" stroke="#808080" stroke-width="0.8"/>
<line x1="256.22" y1="213.90" x2="259.22" y2="213.90" stroke="#808080" stroke-width="0.8"/>
<line x1="267.24" y1="207.40" x2="267.24" y2="213.40" stroke="#808080" stroke-width="0.9"/>
<line x1="265.74" y1="207.40" x2="268.74" y2="207.40" stroke="#808080" stroke-width="0.8"/>
<line x1="265.74" y1="213.40" x2="268.74" y2="213.40" stroke="#808080" stroke-width="0.8"/>
<line x1="305.32" y1="199.50" x2="305.32" y2="205.50" stroke="#808080" stroke-width="0.9"/>
<line x1="303.82" y1="199.50" x2="306.82" y2="199.50" stroke="#808080" stroke-width="0.8"/>
<line x1="303.82" y1="205.50" x2="306.82" y2="205.50" stroke="#808080" stroke-width="0.8"/>
<ellipse cx="200.60" cy="213.50" rx="1.3" ry="1.5" fill="#e4e4e4" stroke="#2a2a2a" stroke-width="0.75"/>
<ellipse cx="210.12" cy="210.20" rx="1.3" ry="1.5" fill="#e4e4e4" stroke="#2a2a2a" stroke-width="0.75"/>
<ellipse cx="219.64" cy="210.50" rx="1.3" ry="1.5" fill="#e4e4e4" stroke="#2a2a2a" stroke-width="0.75"/>
<ellipse cx="229.16" cy="210.30" rx="1.3" ry="1.5" fill="#e4e4e4" stroke="#2a2a2a" stroke-width="0.75"/>
<ellipse cx="238.68" cy="212.00" rx="1.3" ry="1.5" fill="#e4e4e4" stroke="#2a2a2a" stroke-width="0.75"/>
<ellipse cx="248.20" cy="216.40" rx="1.3" ry="1.5" fill="#e4e4e4" stroke="#2a2a2a" stroke-width="0.75"/>
<ellipse cx="257.72" cy="211.40" rx="1.3" ry="1.5" fill="#e4e4e4" stroke="#2a2a2a" stroke-width="0.75"/>
<ellipse cx="267.24" cy="210.40" rx="1.3" ry="1.5" fill="#e4e4e4" stroke="#2a2a2a" stroke-width="0.75"/>
<ellipse cx="276.76" cy="206.00" rx="1.3" ry="1.5" fill="#e4e4e4" stroke="#2a2a2a" stroke-width="0.75"/>
<ellipse cx="286.28" cy="205.40" rx="1.3" ry="1.5" fill="#e4e4e4" stroke="#2a2a2a" stroke-width="0.75"/>
<ellipse cx="295.80" cy="194.60" rx="1.3" ry="1.5" fill="#e4e4e4" stroke="#2a2a2a" stroke-width="0.75"/>
<ellipse cx="305.32" cy="202.50" rx="1.3" ry="1.5" fill="#e4e4e4" stroke="#2a2a2a" stroke-width="0.75"/>
<line x1="195.70" y1="232.50" x2="195.70" y2="276.40" stroke="#111" stroke-width="0.75"/>
<line x1="195.30" y1="276.00" x2="310.00" y2="276.00" stroke="#222" stroke-width="0.75"/>
<text x="194.40" y="235.00" style="font-size:5.6px;font-weight:bold;stroke-width:0.24px;" text-anchor="end">500</text>
<line x1="194.20" y1="233.00" x2="195.70" y2="233.00" stroke="#000" stroke-width="0.7"/>
<text x="194.40" y="243.50" style="font-size:5.6px;font-weight:bold;stroke-width:0.24px;" text-anchor="end">400</text>
<line x1="194.20" y1="241.50" x2="195.70" y2="241.50" stroke="#000" stroke-width="0.7"/>
<text x="194.40" y="252.00" style="font-size:5.6px;font-weight:bold;stroke-width:0.24px;" text-anchor="end">300</text>
<line x1="194.20" y1="250.00" x2="195.70" y2="250.00" stroke="#000" stroke-width="0.7"/>
<text x="194.40" y="260.60" style="font-size:5.6px;font-weight:bold;stroke-width:0.24px;" text-anchor="end">200</text>
<line x1="194.20" y1="258.60" x2="195.70" y2="258.60" stroke="#000" stroke-width="0.7"/>
<text x="194.40" y="269.10" style="font-size:5.6px;font-weight:bold;stroke-width:0.24px;" text-anchor="end">100</text>
<line x1="194.20" y1="267.10" x2="195.70" y2="267.10" stroke="#000" stroke-width="0.7"/>
<text x="194.40" y="277.60" style="font-size:5.6px;font-weight:bold;stroke-width:0.24px;" text-anchor="end">0</text>
<line x1="194.20" y1="275.60" x2="195.70" y2="275.60" stroke="#000" stroke-width="0.7"/>
<line x1="200.60" y1="276.00" x2="200.60" y2="277.60" stroke="#000" stroke-width="0.6"/>
<line x1="210.12" y1="276.00" x2="210.12" y2="277.60" stroke="#000" stroke-width="0.6"/>
<line x1="219.64" y1="276.00" x2="219.64" y2="277.60" stroke="#000" stroke-width="0.6"/>
<line x1="229.16" y1="276.00" x2="229.16" y2="277.60" stroke="#000" stroke-width="0.6"/>
<line x1="238.68" y1="276.00" x2="238.68" y2="277.60" stroke="#000" stroke-width="0.6"/>
<line x1="248.20" y1="276.00" x2="248.20" y2="277.60" stroke="#000" stroke-width="0.6"/>
<line x1="257.72" y1="276.00" x2="257.72" y2="277.60" stroke="#000" stroke-width="0.6"/>
<line x1="267.24" y1="276.00" x2="267.24" y2="277.60" stroke="#000" stroke-width="0.6"/>
<line x1="276.76" y1="276.00" x2="276.76" y2="277.60" stroke="#000" stroke-width="0.6"/>
<line x1="286.28" y1="276.00" x2="286.28" y2="277.60" stroke="#000" stroke-width="0.6"/>
<line x1="295.80" y1="276.00" x2="295.80" y2="277.60" stroke="#000" stroke-width="0.6"/>
<line x1="305.32" y1="276.00" x2="305.32" y2="277.60" stroke="#000" stroke-width="0.6"/>
<text x="197.40" y="236.35" style="font-size:6px;font-weight:bold;stroke-width:0.24px;" textLength="29.60" lengthAdjust="spacingAndGlyphs">H3K27me3</text>
<polyline points="200.60,269.60 210.12,270.40 219.64,268.60 229.16,267.60 238.68,270.00 248.20,270.00 257.72,270.40 267.24,271.60 276.76,271.00 286.28,271.00 295.80,272.00 305.32,272.60" fill="none" stroke="#333" stroke-width="0.8"/>
<ellipse cx="200.60" cy="269.60" rx="1.3" ry="1.5" fill="#e4e4e4" stroke="#2a2a2a" stroke-width="0.75"/>
<ellipse cx="210.12" cy="270.40" rx="1.3" ry="1.5" fill="#e4e4e4" stroke="#2a2a2a" stroke-width="0.75"/>
<ellipse cx="219.64" cy="268.60" rx="1.3" ry="1.5" fill="#e4e4e4" stroke="#2a2a2a" stroke-width="0.75"/>
<ellipse cx="229.16" cy="267.60" rx="1.3" ry="1.5" fill="#e4e4e4" stroke="#2a2a2a" stroke-width="0.75"/>
<ellipse cx="238.68" cy="270.00" rx="1.3" ry="1.5" fill="#e4e4e4" stroke="#2a2a2a" stroke-width="0.75"/>
<ellipse cx="248.20" cy="270.00" rx="1.3" ry="1.5" fill="#e4e4e4" stroke="#2a2a2a" stroke-width="0.75"/>
<ellipse cx="257.72" cy="270.40" rx="1.3" ry="1.5" fill="#e4e4e4" stroke="#2a2a2a" stroke-width="0.75"/>
<ellipse cx="267.24" cy="271.60" rx="1.3" ry="1.5" fill="#e4e4e4" stroke="#2a2a2a" stroke-width="0.75"/>
<ellipse cx="276.76" cy="271.00" rx="1.3" ry="1.5" fill="#e4e4e4" stroke="#2a2a2a" stroke-width="0.75"/>
<ellipse cx="286.28" cy="271.00" rx="1.3" ry="1.5" fill="#e4e4e4" stroke="#2a2a2a" stroke-width="0.75"/>
<ellipse cx="295.80" cy="272.00" rx="1.3" ry="1.5" fill="#e4e4e4" stroke="#2a2a2a" stroke-width="0.75"/>
<ellipse cx="305.32" cy="272.60" rx="1.3" ry="1.5" fill="#e4e4e4" stroke="#2a2a2a" stroke-width="0.75"/>
<polyline points="200.60,262.00 210.12,259.60 219.64,260.40 229.16,263.40 238.68,260.40 248.20,262.00 257.72,262.40 267.24,245.40 276.76,262.40 286.28,262.40 295.80,261.40 305.32,268.60" fill="none" stroke="#000" stroke-width="0.8"/>
<line x1="267.24" y1="238.00" x2="267.24" y2="251.90" stroke="#808080" stroke-width="0.9"/>
<line x1="265.74" y1="238.00" x2="268.74" y2="238.00" stroke="#808080" stroke-width="0.8"/>
<line x1="265.74" y1="251.90" x2="268.74" y2="251.90" stroke="#808080" stroke-width="0.8"/>
<circle cx="200.60" cy="262.00" r="1.5" fill="#000"/>
<circle cx="210.12" cy="259.60" r="1.5" fill="#000"/>
<circle cx="219.64" cy="260.40" r="1.5" fill="#000"/>
<circle cx="229.16" cy="263.40" r="1.5" fill="#000"/>
<circle cx="238.68" cy="260.40" r="1.5" fill="#000"/>
<circle cx="248.20" cy="262.00" r="1.5" fill="#000"/>
<circle cx="257.72" cy="262.40" r="1.5" fill="#000"/>
<circle cx="267.24" cy="245.40" r="1.5" fill="#000"/>
<circle cx="276.76" cy="262.40" r="1.5" fill="#000"/>
<circle cx="286.28" cy="262.40" r="1.5" fill="#000"/>
<circle cx="295.80" cy="261.40" r="1.5" fill="#000"/>
<circle cx="305.32" cy="268.60" r="1.5" fill="#000"/>
<text x="321.20" y="116.97" style="font-size:10.8px;font-weight:bold;" textLength="8.60" lengthAdjust="spacingAndGlyphs">D</text>
<line x1="362.80" y1="121.20" x2="371.20" y2="121.20" stroke="#000" stroke-width="0.8"/>
<ellipse cx="367.10" cy="121.20" rx="2.7" ry="2.3" fill="#000"/>
<text x="372.80" y="123.71" style="font-size:7px;font-weight:bold;" textLength="14.00" lengthAdjust="spacingAndGlyphs">pDC</text>
<ellipse cx="399.90" cy="120.90" rx="2.5" ry="2.2" fill="#f4f4f4" stroke="#222" stroke-width="0.85"/>
<line x1="395.90" y1="120.90" x2="403.90" y2="120.90" stroke="#222" stroke-width="0.7"/>
<text x="406.60" y="123.71" style="font-size:7px;font-weight:bold;" textLength="35.80" lengthAdjust="spacingAndGlyphs">CD103<tspan dy="-2.6" style="font-size:3.6px">+</tspan><tspan dy="2.6"> DC</tspan></text>
<text transform="translate(346.90 276.25) rotate(-90)" style="font-size:8.3px;font-weight:bold" textLength="9.80" lengthAdjust="spacingAndGlyphs">H3</text>
<text transform="translate(346.90 264.65) rotate(-90)" style="font-size:8.3px;font-weight:bold" textLength="47.60" lengthAdjust="spacingAndGlyphs">modification</text>
<text transform="translate(346.90 212.95) rotate(-90)" style="font-size:8.3px;font-weight:bold" textLength="29.20" lengthAdjust="spacingAndGlyphs">relative</text>
<text transform="translate(346.90 180.95) rotate(-90)" style="font-size:8.3px;font-weight:bold" textLength="7.90" lengthAdjust="spacingAndGlyphs">to</text>
<text transform="translate(346.90 169.95) rotate(-90)" style="font-size:8.3px;font-weight:bold" textLength="13.70" lengthAdjust="spacingAndGlyphs">tH3</text>
<text transform="translate(346.90 154.35) rotate(-90)" style="font-size:8.3px;font-weight:bold" textLength="27.30" lengthAdjust="spacingAndGlyphs">(x100)</text>
<line x1="362.40" y1="129.90" x2="362.40" y2="173.20" stroke="#111" stroke-width="0.75"/>
<line x1="362.00" y1="172.80" x2="477.00" y2="172.80" stroke="#222" stroke-width="0.75"/>
<text x="361.10" y="132.20" style="font-size:5.6px;font-weight:bold;stroke-width:0.24px;" text-anchor="end">300</text>
<line x1="360.90" y1="130.20" x2="362.40" y2="130.20" stroke="#000" stroke-width="0.7"/>
<text x="361.10" y="146.30" style="font-size:5.6px;font-weight:bold;stroke-width:0.24px;" text-anchor="end">200</text>
<line x1="360.90" y1="144.30" x2="362.40" y2="144.30" stroke="#000" stroke-width="0.7"/>
<text x="361.10" y="160.40" style="font-size:5.6px;font-weight:bold;stroke-width:0.24px;" text-anchor="end">100</text>
<line x1="360.90" y1="158.40" x2="362.40" y2="158.40" stroke="#000" stroke-width="0.7"/>
<text x="361.10" y="174.60" style="font-size:5.6px;font-weight:bold;stroke-width:0.24px;" text-anchor="end">0</text>
<line x1="360.90" y1="172.60" x2="362.40" y2="172.60" stroke="#000" stroke-width="0.7"/>
<line x1="367.60" y1="172.80" x2="367.60" y2="174.40" stroke="#000" stroke-width="0.6"/>
<line x1="378.05" y1="172.80" x2="378.05" y2="174.40" stroke="#000" stroke-width="0.6"/>
<line x1="388.50" y1="172.80" x2="388.50" y2="174.40" stroke="#000" stroke-width="0.6"/>
<line x1="398.95" y1="172.80" x2="398.95" y2="174.40" stroke="#000" stroke-width="0.6"/>
<line x1="409.40" y1="172.80" x2="409.40" y2="174.40" stroke="#000" stroke-width="0.6"/>
<line x1="419.85" y1="172.80" x2="419.85" y2="174.40" stroke="#000" stroke-width="0.6"/>
<line x1="430.30" y1="172.80" x2="430.30" y2="174.40" stroke="#000" stroke-width="0.6"/>
<line x1="440.75" y1="172.80" x2="440.75" y2="174.40" stroke="#000" stroke-width="0.6"/>
<line x1="451.20" y1="172.80" x2="451.20" y2="174.40" stroke="#000" stroke-width="0.6"/>
<line x1="461.65" y1="172.80" x2="461.65" y2="174.40" stroke="#000" stroke-width="0.6"/>
<line x1="472.10" y1="172.80" x2="472.10" y2="174.40" stroke="#000" stroke-width="0.6"/>
<text x="364.40" y="133.75" style="font-size:6px;font-weight:bold;stroke-width:0.24px;" textLength="21.60" lengthAdjust="spacingAndGlyphs">H3K9ac</text>
<polyline points="367.60,171.00 378.05,171.00 388.50,171.00 398.95,170.80 409.40,170.80 419.85,170.50 430.30,169.60 440.75,166.60 451.20,162.40 461.65,163.00 472.10,167.00" fill="none" stroke="#333" stroke-width="0.8"/>
<ellipse cx="367.60" cy="171.00" rx="1.3" ry="1.5" fill="#e4e4e4" stroke="#2a2a2a" stroke-width="0.75"/>
<ellipse cx="378.05" cy="171.00" rx="1.3" ry="1.5" fill="#e4e4e4" stroke="#2a2a2a" stroke-width="0.75"/>
<ellipse cx="388.50" cy="171.00" rx="1.3" ry="1.5" fill="#e4e4e4" stroke="#2a2a2a" stroke-width="0.75"/>
<ellipse cx="398.95" cy="170.80" rx="1.3" ry="1.5" fill="#e4e4e4" stroke="#2a2a2a" stroke-width="0.75"/>
<ellipse cx="409.40" cy="170.80" rx="1.3" ry="1.5" fill="#e4e4e4" stroke="#2a2a2a" stroke-width="0.75"/>
<ellipse cx="419.85" cy="170.50" rx="1.3" ry="1.5" fill="#e4e4e4" stroke="#2a2a2a" stroke-width="0.75"/>
<ellipse cx="430.30" cy="169.60" rx="1.3" ry="1.5" fill="#e4e4e4" stroke="#2a2a2a" stroke-width="0.75"/>
<ellipse cx="440.75" cy="166.60" rx="1.3" ry="1.5" fill="#e4e4e4" stroke="#2a2a2a" stroke-width="0.75"/>
<ellipse cx="451.20" cy="162.40" rx="1.3" ry="1.5" fill="#e4e4e4" stroke="#2a2a2a" stroke-width="0.75"/>
<ellipse cx="461.65" cy="163.00" rx="1.3" ry="1.5" fill="#e4e4e4" stroke="#2a2a2a" stroke-width="0.75"/>
<ellipse cx="472.10" cy="167.00" rx="1.3" ry="1.5" fill="#e4e4e4" stroke="#2a2a2a" stroke-width="0.75"/>
<polyline points="367.60,170.60 378.05,170.60 388.50,170.60 398.95,170.40 409.40,170.40 419.85,170.00 430.30,169.00 440.75,163.00 451.20,141.60 461.65,153.60 472.10,160.60" fill="none" stroke="#000" stroke-width="0.8"/>
<line x1="440.75" y1="161.00" x2="440.75" y2="165.00" stroke="#808080" stroke-width="0.9"/>
<line x1="439.25" y1="161.00" x2="442.25" y2="161.00" stroke="#808080" stroke-width="0.8"/>
<line x1="439.25" y1="165.00" x2="442.25" y2="165.00" stroke="#808080" stroke-width="0.8"/>
<line x1="451.20" y1="137.60" x2="451.20" y2="145.60" stroke="#808080" stroke-width="0.9"/>
<line x1="449.70" y1="137.60" x2="452.70" y2="137.60" stroke="#808080" stroke-width="0.8"/>
<line x1="449.70" y1="145.60" x2="452.70" y2="145.60" stroke="#808080" stroke-width="0.8"/>
<line x1="461.65" y1="149.90" x2="461.65" y2="157.30" stroke="#808080" stroke-width="0.9"/>
<line x1="460.15" y1="149.90" x2="463.15" y2="149.90" stroke="#808080" stroke-width="0.8"/>
<line x1="460.15" y1="157.30" x2="463.15" y2="157.30" stroke="#808080" stroke-width="0.8"/>
<circle cx="367.60" cy="170.60" r="1.5" fill="#000"/>
<circle cx="378.05" cy="170.60" r="1.5" fill="#000"/>
<circle cx="388.50" cy="170.60" r="1.5" fill="#000"/>
<circle cx="398.95" cy="170.40" r="1.5" fill="#000"/>
<circle cx="409.40" cy="170.40" r="1.5" fill="#000"/>
<circle cx="419.85" cy="170.00" r="1.5" fill="#000"/>
<circle cx="430.30" cy="169.00" r="1.5" fill="#000"/>
<circle cx="440.75" cy="163.00" r="1.5" fill="#000"/>
<circle cx="451.20" cy="141.60" r="1.5" fill="#000"/>
<circle cx="461.65" cy="153.60" r="1.5" fill="#000"/>
<circle cx="472.10" cy="160.60" r="1.5" fill="#000"/>
<line x1="362.40" y1="181.30" x2="362.40" y2="224.80" stroke="#111" stroke-width="0.75"/>
<line x1="362.00" y1="224.40" x2="477.00" y2="224.40" stroke="#222" stroke-width="0.75"/>
<text x="361.10" y="184.00" style="font-size:5.6px;font-weight:bold;stroke-width:0.24px;" text-anchor="end">200</text>
<line x1="360.90" y1="182.00" x2="362.40" y2="182.00" stroke="#000" stroke-width="0.7"/>
<text x="361.10" y="194.50" style="font-size:5.6px;font-weight:bold;stroke-width:0.24px;" text-anchor="end">150</text>
<line x1="360.90" y1="192.50" x2="362.40" y2="192.50" stroke="#000" stroke-width="0.7"/>
<text x="361.10" y="205.10" style="font-size:5.6px;font-weight:bold;stroke-width:0.24px;" text-anchor="end">100</text>
<line x1="360.90" y1="203.10" x2="362.40" y2="203.10" stroke="#000" stroke-width="0.7"/>
<text x="361.10" y="215.70" style="font-size:5.6px;font-weight:bold;stroke-width:0.24px;" text-anchor="end">50</text>
<line x1="360.90" y1="213.70" x2="362.40" y2="213.70" stroke="#000" stroke-width="0.7"/>
<text x="361.10" y="226.20" style="font-size:5.6px;font-weight:bold;stroke-width:0.24px;" text-anchor="end">0</text>
<line x1="360.90" y1="224.20" x2="362.40" y2="224.20" stroke="#000" stroke-width="0.7"/>
<line x1="367.60" y1="224.40" x2="367.60" y2="226.00" stroke="#000" stroke-width="0.6"/>
<line x1="378.05" y1="224.40" x2="378.05" y2="226.00" stroke="#000" stroke-width="0.6"/>
<line x1="388.50" y1="224.40" x2="388.50" y2="226.00" stroke="#000" stroke-width="0.6"/>
<line x1="398.95" y1="224.40" x2="398.95" y2="226.00" stroke="#000" stroke-width="0.6"/>
<line x1="409.40" y1="224.40" x2="409.40" y2="226.00" stroke="#000" stroke-width="0.6"/>
<line x1="419.85" y1="224.40" x2="419.85" y2="226.00" stroke="#000" stroke-width="0.6"/>
<line x1="430.30" y1="224.40" x2="430.30" y2="226.00" stroke="#000" stroke-width="0.6"/>
<line x1="440.75" y1="224.40" x2="440.75" y2="226.00" stroke="#000" stroke-width="0.6"/>
<line x1="451.20" y1="224.40" x2="451.20" y2="226.00" stroke="#000" stroke-width="0.6"/>
<line x1="461.65" y1="224.40" x2="461.65" y2="226.00" stroke="#000" stroke-width="0.6"/>
<line x1="472.10" y1="224.40" x2="472.10" y2="226.00" stroke="#000" stroke-width="0.6"/>
<text x="364.00" y="185.15" style="font-size:6px;font-weight:bold;stroke-width:0.24px;" textLength="27.60" lengthAdjust="spacingAndGlyphs">H3K4me3</text>
<polyline points="367.60,223.20 378.05,223.20 388.50,223.20 398.95,223.00 409.40,222.80 419.85,221.00 430.30,216.00 440.75,211.40 451.20,191.60 461.65,192.40 472.10,193.60" fill="none" stroke="#333" stroke-width="0.8"/>
<line x1="451.20" y1="188.60" x2="451.20" y2="194.60" stroke="#808080" stroke-width="0.9"/>
<line x1="449.70" y1="188.60" x2="452.70" y2="188.60" stroke="#808080" stroke-width="0.8"/>
<line x1="449.70" y1="194.60" x2="452.70" y2="194.60" stroke="#808080" stroke-width="0.8"/>
<line x1="461.65" y1="188.40" x2="461.65" y2="196.40" stroke="#808080" stroke-width="0.9"/>
<line x1="460.15" y1="188.40" x2="463.15" y2="188.40" stroke="#808080" stroke-width="0.8"/>
<line x1="460.15" y1="196.40" x2="463.15" y2="196.40" stroke="#808080" stroke-width="0.8"/>
<ellipse cx="367.60" cy="223.20" rx="1.3" ry="1.5" fill="#e4e4e4" stroke="#2a2a2a" stroke-width="0.75"/>
<ellipse cx="378.05" cy="223.20" rx="1.3" ry="1.5" fill="#e4e4e4" stroke="#2a2a2a" stroke-width="0.75"/>
<ellipse cx="388.50" cy="223.20" rx="1.3" ry="1.5" fill="#e4e4e4" stroke="#2a2a2a" stroke-width="0.75"/>
<ellipse cx="398.95" cy="223.00" rx="1.3" ry="1.5" fill="#e4e4e4" stroke="#2a2a2a" stroke-width="0.75"/>
<ellipse cx="409.40" cy="222.80" rx="1.3" ry="1.5" fill="#e4e4e4" stroke="#2a2a2a" stroke-width="0.75"/>
<ellipse cx="419.85" cy="221.00" rx="1.3" ry="1.5" fill="#e4e4e4" stroke="#2a2a2a" stroke-width="0.75"/>
<ellipse cx="430.30" cy="216.00" rx="1.3" ry="1.5" fill="#e4e4e4" stroke="#2a2a2a" stroke-width="0.75"/>
<ellipse cx="440.75" cy="211.40" rx="1.3" ry="1.5" fill="#e4e4e4" stroke="#2a2a2a" stroke-width="0.75"/>
<ellipse cx="451.20" cy="191.60" rx="1.3" ry="1.5" fill="#e4e4e4" stroke="#2a2a2a" stroke-width="0.75"/>
<ellipse cx="461.65" cy="192.40" rx="1.3" ry="1.5" fill="#e4e4e4" stroke="#2a2a2a" stroke-width="0.75"/>
<ellipse cx="472.10" cy="193.60" rx="1.3" ry="1.5" fill="#e4e4e4" stroke="#2a2a2a" stroke-width="0.75"/>
<polyline points="367.60,223.00 378.05,223.00 388.50,223.00 398.95,222.80 409.40,222.80 419.85,222.00 430.30,218.60 440.75,210.00 451.20,185.60 461.65,192.00 472.10,186.00" fill="none" stroke="#000" stroke-width="0.8"/>
<line x1="461.65" y1="188.50" x2="461.65" y2="195.50" stroke="#808080" stroke-width="0.9"/>
<line x1="460.15" y1="188.50" x2="463.15" y2="188.50" stroke="#808080" stroke-width="0.8"/>
<line x1="460.15" y1="195.50" x2="463.15" y2="195.50" stroke="#808080" stroke-width="0.8"/>
<circle cx="367.60" cy="223.00" r="1.5" fill="#000"/>
<circle cx="378.05" cy="223.00" r="1.5" fill="#000"/>
<circle cx="388.50" cy="223.00" r="1.5" fill="#000"/>
<circle cx="398.95" cy="222.80" r="1.5" fill="#000"/>
<circle cx="409.40" cy="222.80" r="1.5" fill="#000"/>
<circle cx="419.85" cy="222.00" r="1.5" fill="#000"/>
<circle cx="430.30" cy="218.60" r="1.5" fill="#000"/>
<circle cx="440.75" cy="210.00" r="1.5" fill="#000"/>
<circle cx="451.20" cy="185.60" r="1.5" fill="#000"/>
<circle cx="461.65" cy="192.00" r="1.5" fill="#000"/>
<circle cx="472.10" cy="186.00" r="1.5" fill="#000"/>
<line x1="362.40" y1="232.50" x2="362.40" y2="276.40" stroke="#111" stroke-width="0.75"/>
<line x1="362.00" y1="276.00" x2="477.00" y2="276.00" stroke="#222" stroke-width="0.75"/>
<text x="361.10" y="235.00" style="font-size:5.6px;font-weight:bold;stroke-width:0.24px;" text-anchor="end">250</text>
<line x1="360.90" y1="233.00" x2="362.40" y2="233.00" stroke="#000" stroke-width="0.7"/>
<text x="361.10" y="243.50" style="font-size:5.6px;font-weight:bold;stroke-width:0.24px;" text-anchor="end">200</text>
<line x1="360.90" y1="241.50" x2="362.40" y2="241.50" stroke="#000" stroke-width="0.7"/>
<text x="361.10" y="252.00" style="font-size:5.6px;font-weight:bold;stroke-width:0.24px;" text-anchor="end">150</text>
<line x1="360.90" y1="250.00" x2="362.40" y2="250.00" stroke="#000" stroke-width="0.7"/>
<text x="361.10" y="260.60" style="font-size:5.6px;font-weight:bold;stroke-width:0.24px;" text-anchor="end">100</text>
<line x1="360.90" y1="258.60" x2="362.40" y2="258.60" stroke="#000" stroke-width="0.7"/>
<text x="361.10" y="269.10" style="font-size:5.6px;font-weight:bold;stroke-width:0.24px;" text-anchor="end">50</text>
<line x1="360.90" y1="267.10" x2="362.40" y2="267.10" stroke="#000" stroke-width="0.7"/>
<text x="361.10" y="277.60" style="font-size:5.6px;font-weight:bold;stroke-width:0.24px;" text-anchor="end">0</text>
<line x1="360.90" y1="275.60" x2="362.40" y2="275.60" stroke="#000" stroke-width="0.7"/>
<line x1="367.60" y1="276.00" x2="367.60" y2="277.60" stroke="#000" stroke-width="0.6"/>
<line x1="378.05" y1="276.00" x2="378.05" y2="277.60" stroke="#000" stroke-width="0.6"/>
<line x1="388.50" y1="276.00" x2="388.50" y2="277.60" stroke="#000" stroke-width="0.6"/>
<line x1="398.95" y1="276.00" x2="398.95" y2="277.60" stroke="#000" stroke-width="0.6"/>
<line x1="409.40" y1="276.00" x2="409.40" y2="277.60" stroke="#000" stroke-width="0.6"/>
<line x1="419.85" y1="276.00" x2="419.85" y2="277.60" stroke="#000" stroke-width="0.6"/>
<line x1="430.30" y1="276.00" x2="430.30" y2="277.60" stroke="#000" stroke-width="0.6"/>
<line x1="440.75" y1="276.00" x2="440.75" y2="277.60" stroke="#000" stroke-width="0.6"/>
<line x1="451.20" y1="276.00" x2="451.20" y2="277.60" stroke="#000" stroke-width="0.6"/>
<line x1="461.65" y1="276.00" x2="461.65" y2="277.60" stroke="#000" stroke-width="0.6"/>
<line x1="472.10" y1="276.00" x2="472.10" y2="277.60" stroke="#000" stroke-width="0.6"/>
<text x="364.00" y="236.35" style="font-size:6px;font-weight:bold;stroke-width:0.24px;" textLength="30.00" lengthAdjust="spacingAndGlyphs">H3K27me3</text>
<polyline points="367.60,246.00 378.05,252.00 388.50,250.50 398.95,254.40 409.40,253.40 419.85,257.50 430.30,254.60 440.75,262.00 451.20,267.40 461.65,265.40 472.10,258.00" fill="none" stroke="#333" stroke-width="0.8"/>
<line x1="367.60" y1="242.00" x2="367.60" y2="250.00" stroke="#808080" stroke-width="0.9"/>
<line x1="366.10" y1="242.00" x2="369.10" y2="242.00" stroke="#808080" stroke-width="0.8"/>
<line x1="366.10" y1="250.00" x2="369.10" y2="250.00" stroke="#808080" stroke-width="0.8"/>
<line x1="378.05" y1="249.00" x2="378.05" y2="255.00" stroke="#808080" stroke-width="0.9"/>
<line x1="376.55" y1="249.00" x2="379.55" y2="249.00" stroke="#808080" stroke-width="0.8"/>
<line x1="376.55" y1="255.00" x2="379.55" y2="255.00" stroke="#808080" stroke-width="0.8"/>
<line x1="388.50" y1="246.50" x2="388.50" y2="254.50" stroke="#808080" stroke-width="0.9"/>
<line x1="387.00" y1="246.50" x2="390.00" y2="246.50" stroke="#808080" stroke-width="0.8"/>
<line x1="387.00" y1="254.50" x2="390.00" y2="254.50" stroke="#808080" stroke-width="0.8"/>
<line x1="398.95" y1="250.90" x2="398.95" y2="257.90" stroke="#808080" stroke-width="0.9"/>
<line x1="397.45" y1="250.90" x2="400.45" y2="250.90" stroke="#808080" stroke-width="0.8"/>
<line x1="397.45" y1="257.90" x2="400.45" y2="257.90" stroke="#808080" stroke-width="0.8"/>
<line x1="409.40" y1="249.90" x2="409.40" y2="256.90" stroke="#808080" stroke-width="0.9"/>
<line x1="407.90" y1="249.90" x2="410.90" y2="249.90" stroke="#808080" stroke-width="0.8"/>
<line x1="407.90" y1="256.90" x2="410.90" y2="256.90" stroke="#808080" stroke-width="0.8"/>
<line x1="419.85" y1="255.50" x2="419.85" y2="259.50" stroke="#808080" stroke-width="0.9"/>
<line x1="418.35" y1="255.50" x2="421.35" y2="255.50" stroke="#808080" stroke-width="0.8"/>
<line x1="418.35" y1="259.50" x2="421.35" y2="259.50" stroke="#808080" stroke-width="0.8"/>
<line x1="472.10" y1="255.00" x2="472.10" y2="261.00" stroke="#808080" stroke-width="0.9"/>
<line x1="470.60" y1="255.00" x2="473.60" y2="255.00" stroke="#808080" stroke-width="0.8"/>
<line x1="470.60" y1="261.00" x2="473.60" y2="261.00" stroke="#808080" stroke-width="0.8"/>
<ellipse cx="367.60" cy="246.00" rx="1.3" ry="1.5" fill="#e4e4e4" stroke="#2a2a2a" stroke-width="0.75"/>
<ellipse cx="378.05" cy="252.00" rx="1.3" ry="1.5" fill="#e4e4e4" stroke="#2a2a2a" stroke-width="0.75"/>
<ellipse cx="388.50" cy="250.50" rx="1.3" ry="1.5" fill="#e4e4e4" stroke="#2a2a2a" stroke-width="0.75"/>
<ellipse cx="398.95" cy="254.40" rx="1.3" ry="1.5" fill="#e4e4e4" stroke="#2a2a2a" stroke-width="0.75"/>
<ellipse cx="409.40" cy="253.40" rx="1.3" ry="1.5" fill="#e4e4e4" stroke="#2a2a2a" stroke-width="0.75"/>
<ellipse cx="419.85" cy="257.50" rx="1.3" ry="1.5" fill="#e4e4e4" stroke="#2a2a2a" stroke-width="0.75"/>
<ellipse cx="430.30" cy="254.60" rx="1.3" ry="1.5" fill="#e4e4e4" stroke="#2a2a2a" stroke-width="0.75"/>
<ellipse cx="440.75" cy="262.00" rx="1.3" ry="1.5" fill="#e4e4e4" stroke="#2a2a2a" stroke-width="0.75"/>
<ellipse cx="451.20" cy="267.40" rx="1.3" ry="1.5" fill="#e4e4e4" stroke="#2a2a2a" stroke-width="0.75"/>
<ellipse cx="461.65" cy="265.40" rx="1.3" ry="1.5" fill="#e4e4e4" stroke="#2a2a2a" stroke-width="0.75"/>
<ellipse cx="472.10" cy="258.00" rx="1.3" ry="1.5" fill="#e4e4e4" stroke="#2a2a2a" stroke-width="0.75"/>
<polyline points="367.60,269.40 378.05,267.60 388.50,268.00 398.95,267.40 409.40,268.00 419.85,268.00 430.30,266.60 440.75,267.40 451.20,266.40 461.65,265.40 472.10,265.60" fill="none" stroke="#000" stroke-width="0.8"/>
<line x1="398.95" y1="265.40" x2="398.95" y2="269.40" stroke="#808080" stroke-width="0.9"/>
<line x1="397.45" y1="265.40" x2="400.45" y2="265.40" stroke="#808080" stroke-width="0.8"/>
<line x1="397.45" y1="269.40" x2="400.45" y2="269.40" stroke="#808080" stroke-width="0.8"/>
<line x1="419.85" y1="266.00" x2="419.85" y2="270.00" stroke="#808080" stroke-width="0.9"/>
<line x1="418.35" y1="266.00" x2="421.35" y2="266.00" stroke="#808080" stroke-width="0.8"/>
<line x1="418.35" y1="270.00" x2="421.35" y2="270.00" stroke="#808080" stroke-width="0.8"/>
<line x1="472.10" y1="263.60" x2="472.10" y2="267.60" stroke="#808080" stroke-width="0.9"/>
<line x1="470.60" y1="263.60" x2="473.60" y2="263.60" stroke="#808080" stroke-width="0.8"/>
<line x1="470.60" y1="267.60" x2="473.60" y2="267.60" stroke="#808080" stroke-width="0.8"/>
<circle cx="367.60" cy="269.40" r="1.5" fill="#000"/>
<circle cx="378.05" cy="267.60" r="1.5" fill="#000"/>
<circle cx="388.50" cy="268.00" r="1.5" fill="#000"/>
<circle cx="398.95" cy="267.40" r="1.5" fill="#000"/>
<circle cx="409.40" cy="268.00" r="1.5" fill="#000"/>
<circle cx="419.85" cy="268.00" r="1.5" fill="#000"/>
<circle cx="430.30" cy="266.60" r="1.5" fill="#000"/>
<circle cx="440.75" cy="267.40" r="1.5" fill="#000"/>
<circle cx="451.20" cy="266.40" r="1.5" fill="#000"/>
<circle cx="461.65" cy="265.40" r="1.5" fill="#000"/>
<circle cx="472.10" cy="265.60" r="1.5" fill="#000"/>
<text x="179.40" y="302.91" style="font-size:7px;font-weight:bold;font-style:italic;" textLength="10.00" lengthAdjust="spacingAndGlyphs">Id2</text>
<line x1="195.30" y1="299.30" x2="205.00" y2="299.30" stroke="#2a2a2a" stroke-width="0.55"/>
<rect x="204.20" y="298.30" width="1.20" height="1.20" fill="#000" stroke="none" stroke-width="1"/>
<text x="200.15" y="299.10" style="font-size:3.2px;font-weight:bold;stroke-width:0.24px;stroke:none;" text-anchor="middle" fill="#6a6a6a">I1</text>
<line x1="205.00" y1="298.00" x2="214.70" y2="298.00" stroke="#2a2a2a" stroke-width="0.55"/>
<rect x="213.90" y="297.00" width="1.20" height="1.20" fill="#000" stroke="none" stroke-width="1"/>
<text x="209.85" y="297.80" style="font-size:3.2px;font-weight:bold;stroke-width:0.24px;stroke:none;" text-anchor="middle" fill="#6a6a6a">I2</text>
<line x1="214.70" y1="296.70" x2="224.40" y2="296.70" stroke="#2a2a2a" stroke-width="0.55"/>
<rect x="223.60" y="295.70" width="1.20" height="1.20" fill="#000" stroke="none" stroke-width="1"/>
<text x="219.55" y="296.50" style="font-size:3.2px;font-weight:bold;stroke-width:0.24px;stroke:none;" text-anchor="middle" fill="#6a6a6a">I3</text>
<line x1="224.40" y1="295.40" x2="234.10" y2="295.40" stroke="#2a2a2a" stroke-width="0.55"/>
<rect x="233.30" y="294.40" width="1.20" height="1.20" fill="#000" stroke="none" stroke-width="1"/>
<text x="229.25" y="295.20" style="font-size:3.2px;font-weight:bold;stroke-width:0.24px;stroke:none;" text-anchor="middle" fill="#6a6a6a">I4</text>
<line x1="234.10" y1="294.10" x2="243.80" y2="294.10" stroke="#2a2a2a" stroke-width="0.55"/>
<rect x="243.00" y="293.10" width="1.20" height="1.20" fill="#000" stroke="none" stroke-width="1"/>
<text x="238.95" y="293.90" style="font-size:3.2px;font-weight:bold;stroke-width:0.24px;stroke:none;" text-anchor="middle" fill="#6a6a6a">I5</text>
<line x1="243.80" y1="292.80" x2="253.50" y2="292.80" stroke="#2a2a2a" stroke-width="0.55"/>
<rect x="252.70" y="291.80" width="1.20" height="1.20" fill="#000" stroke="none" stroke-width="1"/>
<text x="248.65" y="292.60" style="font-size:3.2px;font-weight:bold;stroke-width:0.24px;stroke:none;" text-anchor="middle" fill="#6a6a6a">I6</text>
<line x1="253.50" y1="291.50" x2="263.20" y2="291.50" stroke="#2a2a2a" stroke-width="0.55"/>
<rect x="262.40" y="290.50" width="1.20" height="1.20" fill="#000" stroke="none" stroke-width="1"/>
<text x="258.35" y="291.30" style="font-size:3.2px;font-weight:bold;stroke-width:0.24px;stroke:none;" text-anchor="middle" fill="#6a6a6a">I7</text>
<line x1="263.20" y1="290.20" x2="272.90" y2="290.20" stroke="#2a2a2a" stroke-width="0.55"/>
<rect x="272.10" y="289.20" width="1.20" height="1.20" fill="#000" stroke="none" stroke-width="1"/>
<text x="268.05" y="290.00" style="font-size:3.2px;font-weight:bold;stroke-width:0.24px;stroke:none;" text-anchor="middle" fill="#6a6a6a">I8</text>
<line x1="272.90" y1="288.90" x2="282.60" y2="288.90" stroke="#2a2a2a" stroke-width="0.55"/>
<rect x="281.80" y="287.90" width="1.20" height="1.20" fill="#000" stroke="none" stroke-width="1"/>
<text x="277.75" y="288.70" style="font-size:3.2px;font-weight:bold;stroke-width:0.24px;stroke:none;" text-anchor="middle" fill="#6a6a6a">I9</text>
<line x1="282.60" y1="287.60" x2="292.30" y2="287.60" stroke="#2a2a2a" stroke-width="0.55"/>
<rect x="291.50" y="286.60" width="1.20" height="1.20" fill="#000" stroke="none" stroke-width="1"/>
<text x="287.45" y="287.40" style="font-size:3.2px;font-weight:bold;stroke-width:0.24px;stroke:none;" text-anchor="middle" fill="#6a6a6a">I10</text>
<line x1="292.30" y1="286.30" x2="302.00" y2="286.30" stroke="#2a2a2a" stroke-width="0.55"/>
<rect x="301.20" y="285.30" width="1.20" height="1.20" fill="#000" stroke="none" stroke-width="1"/>
<text x="297.15" y="286.10" style="font-size:3.2px;font-weight:bold;stroke-width:0.24px;stroke:none;" text-anchor="middle" fill="#6a6a6a">I11</text>
<line x1="302.00" y1="285.00" x2="311.70" y2="285.00" stroke="#2a2a2a" stroke-width="0.55"/>
<rect x="310.90" y="284.00" width="1.20" height="1.20" fill="#000" stroke="none" stroke-width="1"/>
<text x="306.85" y="284.80" style="font-size:3.2px;font-weight:bold;stroke-width:0.24px;stroke:none;" text-anchor="middle" fill="#6a6a6a">I12</text>
<line x1="195.30" y1="302.20" x2="313.00" y2="302.20" stroke="#aaa" stroke-width="0.7"/>
<path d="M313 302.2 V298.2 H316.6" fill="none" stroke="#999" stroke-width="0.6"/>
<ellipse cx="205.20" cy="302.20" rx="0.95" ry="1.55" fill="#000"/>
<rect x="206.60" y="300.40" width="2.00" height="3.60" fill="#000" stroke="none" stroke-width="1"/>
<ellipse cx="210.60" cy="302.20" rx="1.05" ry="1.60" fill="#fff" stroke="#2a2a2a" stroke-width="0.55"/>
<ellipse cx="212.80" cy="302.20" rx="1.05" ry="1.60" fill="#fff" stroke="#2a2a2a" stroke-width="0.55"/>
<path d="M226.50 300.10 L227.60 302.20 L226.50 304.30 L225.40 302.20 Z" fill="#000"/>
<path d="M234.20 300.10 L235.30 302.20 L234.20 304.30 L233.10 302.20 Z" fill="#000"/>
<ellipse cx="242.80" cy="302.20" rx="0.95" ry="1.55" fill="#000"/>
<rect x="243.80" y="300.40" width="2.00" height="3.60" fill="#000" stroke="none" stroke-width="1"/>
<ellipse cx="248.80" cy="302.20" rx="1.05" ry="1.60" fill="#fff" stroke="#2a2a2a" stroke-width="0.55"/>
<path d="M254.40 300.10 L255.50 302.20 L254.40 304.30 L253.30 302.20 Z" fill="#000"/>
<ellipse cx="268.80" cy="302.20" rx="0.95" ry="1.55" fill="#000"/>
<rect x="282.90" y="301.30" width="1.40" height="1.80" fill="#000" stroke="none" stroke-width="1"/>
<ellipse cx="286.80" cy="302.20" rx="1.05" ry="1.60" fill="#fff" stroke="#2a2a2a" stroke-width="0.55"/>
<ellipse cx="288.40" cy="302.20" rx="0.95" ry="1.55" fill="#000"/>
<path d="M293.50 300.10 L294.60 302.20 L293.50 304.30 L292.40 302.20 Z" fill="#000"/>
<ellipse cx="306.50" cy="302.20" rx="0.95" ry="1.55" fill="#000"/>
<text x="341.60" y="303.11" style="font-size:7px;font-weight:bold;font-style:italic;" textLength="14.00" lengthAdjust="spacingAndGlyphs">Tcf4</text>
<line x1="361.00" y1="299.40" x2="371.75" y2="299.40" stroke="#2a2a2a" stroke-width="0.55"/>
<rect x="370.95" y="298.40" width="1.20" height="1.20" fill="#000" stroke="none" stroke-width="1"/>
<text x="366.38" y="299.12" style="font-size:3.0px;font-weight:bold;stroke-width:0.24px;" text-anchor="middle">T1</text>
<line x1="371.75" y1="298.04" x2="382.50" y2="298.04" stroke="#2a2a2a" stroke-width="0.55"/>
<rect x="381.70" y="297.04" width="1.20" height="1.20" fill="#000" stroke="none" stroke-width="1"/>
<text x="377.12" y="297.76" style="font-size:3.0px;font-weight:bold;stroke-width:0.24px;" text-anchor="middle">T2</text>
<line x1="382.50" y1="296.68" x2="393.25" y2="296.68" stroke="#2a2a2a" stroke-width="0.55"/>
<rect x="392.45" y="295.68" width="1.20" height="1.20" fill="#000" stroke="none" stroke-width="1"/>
<text x="387.88" y="296.40" style="font-size:3.0px;font-weight:bold;stroke-width:0.24px;" text-anchor="middle">T3</text>
<line x1="393.25" y1="295.32" x2="404.00" y2="295.32" stroke="#2a2a2a" stroke-width="0.55"/>
<rect x="403.20" y="294.32" width="1.20" height="1.20" fill="#000" stroke="none" stroke-width="1"/>
<text x="398.62" y="295.04" style="font-size:3.0px;font-weight:bold;stroke-width:0.24px;" text-anchor="middle">T4</text>
<line x1="404.00" y1="293.96" x2="414.75" y2="293.96" stroke="#2a2a2a" stroke-width="0.55"/>
<rect x="413.95" y="292.96" width="1.20" height="1.20" fill="#000" stroke="none" stroke-width="1"/>
<text x="409.38" y="293.68" style="font-size:3.0px;font-weight:bold;stroke-width:0.24px;" text-anchor="middle">T5</text>
<line x1="414.75" y1="292.60" x2="425.50" y2="292.60" stroke="#2a2a2a" stroke-width="0.55"/>
<rect x="424.70" y="291.60" width="1.20" height="1.20" fill="#000" stroke="none" stroke-width="1"/>
<text x="420.12" y="292.32" style="font-size:3.0px;font-weight:bold;stroke-width:0.24px;" text-anchor="middle">T6</text>
<line x1="425.50" y1="291.24" x2="436.25" y2="291.24" stroke="#2a2a2a" stroke-width="0.55"/>
<rect x="435.45" y="290.24" width="1.20" height="1.20" fill="#000" stroke="none" stroke-width="1"/>
<text x="430.88" y="290.96" style="font-size:3.0px;font-weight:bold;stroke-width:0.24px;" text-anchor="middle">T7</text>
<line x1="436.25" y1="289.88" x2="447.00" y2="289.88" stroke="#2a2a2a" stroke-width="0.55"/>
<rect x="446.20" y="288.88" width="1.20" height="1.20" fill="#000" stroke="none" stroke-width="1"/>
<text x="441.62" y="289.60" style="font-size:3.0px;font-weight:bold;stroke-width:0.24px;" text-anchor="middle">T8</text>
<line x1="447.00" y1="288.52" x2="457.75" y2="288.52" stroke="#2a2a2a" stroke-width="0.55"/>
<rect x="456.95" y="287.52" width="1.20" height="1.20" fill="#000" stroke="none" stroke-width="1"/>
<text x="452.38" y="288.24" style="font-size:3.0px;font-weight:bold;stroke-width:0.24px;" text-anchor="middle">T9</text>
<line x1="457.75" y1="287.16" x2="468.50" y2="287.16" stroke="#2a2a2a" stroke-width="0.55"/>
<rect x="467.70" y="286.16" width="1.20" height="1.20" fill="#000" stroke="none" stroke-width="1"/>
<text x="463.12" y="286.88" style="font-size:3.0px;font-weight:bold;stroke-width:0.24px;" text-anchor="middle">T10</text>
<line x1="468.50" y1="285.80" x2="479.25" y2="285.80" stroke="#2a2a2a" stroke-width="0.55"/>
<rect x="478.45" y="284.80" width="1.20" height="1.20" fill="#000" stroke="none" stroke-width="1"/>
<text x="473.88" y="285.52" style="font-size:3.0px;font-weight:bold;stroke-width:0.24px;" text-anchor="middle">T11</text>
<line x1="361.30" y1="302.50" x2="480.00" y2="302.50" stroke="#aaa" stroke-width="0.7"/>
<path d="M480 302.2 V298.2 H483.6" fill="none" stroke="#999" stroke-width="0.6"/>
<ellipse cx="364.20" cy="302.50" rx="0.95" ry="1.55" fill="#000"/>
<ellipse cx="366.40" cy="302.50" rx="0.95" ry="1.55" fill="#000"/>
<rect x="370.60" y="300.70" width="2.00" height="3.60" fill="#000" stroke="none" stroke-width="1"/>
<ellipse cx="382.70" cy="302.50" rx="1.05" ry="1.60" fill="#fff" stroke="#2a2a2a" stroke-width="0.55"/>
<path d="M387.00 304.50 L388.40 300.70 L385.60 300.70 Z" fill="#000"/>
<rect x="388.40" y="300.70" width="2.00" height="3.60" fill="#000" stroke="none" stroke-width="1"/>
<rect x="390.60" y="300.70" width="2.00" height="3.60" fill="#000" stroke="none" stroke-width="1"/>
<ellipse cx="393.80" cy="302.50" rx="0.95" ry="1.55" fill="#000"/>
<ellipse cx="406.60" cy="302.50" rx="0.95" ry="1.55" fill="#000"/>
<path d="M408.80 300.40 L409.90 302.50 L408.80 304.60 L407.70 302.50 Z" fill="#000"/>
<ellipse cx="411.20" cy="302.50" rx="1.05" ry="1.60" fill="#fff" stroke="#2a2a2a" stroke-width="0.55"/>
<ellipse cx="413.60" cy="302.50" rx="0.95" ry="1.55" fill="#000"/>
<ellipse cx="417.80" cy="302.50" rx="0.95" ry="1.55" fill="#000"/>
<ellipse cx="418.80" cy="302.50" rx="1.05" ry="1.60" fill="#fff" stroke="#2a2a2a" stroke-width="0.55"/>
<ellipse cx="421.90" cy="302.50" rx="1.05" ry="1.60" fill="#fff" stroke="#2a2a2a" stroke-width="0.55"/>
<ellipse cx="433.80" cy="302.50" rx="0.95" ry="1.55" fill="#000"/>
<ellipse cx="436.90" cy="302.50" rx="1.05" ry="1.60" fill="#fff" stroke="#2a2a2a" stroke-width="0.55"/>
<ellipse cx="439.80" cy="302.50" rx="1.05" ry="1.60" fill="#fff" stroke="#2a2a2a" stroke-width="0.55"/>
<ellipse cx="442.60" cy="302.50" rx="0.95" ry="1.55" fill="#000"/>
<ellipse cx="464.50" cy="302.50" rx="1.05" ry="1.60" fill="#fff" stroke="#2a2a2a" stroke-width="0.55"/>
<ellipse cx="475.40" cy="302.50" rx="0.95" ry="1.55" fill="#000"/>
<ellipse cx="477.80" cy="302.50" rx="1.05" ry="1.60" fill="#fff" stroke="#2a2a2a" stroke-width="0.55"/>
<ellipse cx="253.50" cy="316.30" rx="1.52" ry="2.48" fill="#000"/>
<text x="256.50" y="317.95" style="font-size:4.6px;font-weight:bold;stroke-width:0.24px;" textLength="14.50" lengthAdjust="spacingAndGlyphs">Gata-1</text>
<ellipse cx="281.60" cy="316.30" rx="1.68" ry="2.56" fill="#fff" stroke="#2a2a2a" stroke-width="0.88"/>
<text x="284.20" y="317.95" style="font-size:4.6px;font-weight:bold;stroke-width:0.24px;" textLength="15.00" lengthAdjust="spacingAndGlyphs">Gata-2</text>
<path d="M310.20 312.94 L311.96 316.30 L310.20 319.66 L308.44 316.30 Z" fill="#000"/>
<text x="312.80" y="317.95" style="font-size:4.6px;font-weight:bold;stroke-width:0.24px;" textLength="12.60" lengthAdjust="spacingAndGlyphs">Icsbp</text>
<path d="M335.80 313.10 L338.04 319.18 L333.56 319.18 Z" fill="#000"/>
<text x="338.80" y="317.95" style="font-size:4.6px;font-weight:bold;stroke-width:0.24px;" textLength="13.80" lengthAdjust="spacingAndGlyphs">STATx</text>
<path d="M364.20 319.50 L366.44 313.42 L361.96 313.42 Z" fill="#000"/>
<text x="367.40" y="317.95" style="font-size:4.6px;font-weight:bold;stroke-width:0.24px;" textLength="11.10" lengthAdjust="spacingAndGlyphs">PU.1</text>
<rect x="387.30" y="313.42" width="3.20" height="5.76" fill="#000" stroke="none" stroke-width="1"/>
<text x="391.60" y="317.95" style="font-size:4.6px;font-weight:bold;stroke-width:0.24px;" textLength="13.40" lengthAdjust="spacingAndGlyphs">MyoD</text>
</svg>
</body>
</html>
